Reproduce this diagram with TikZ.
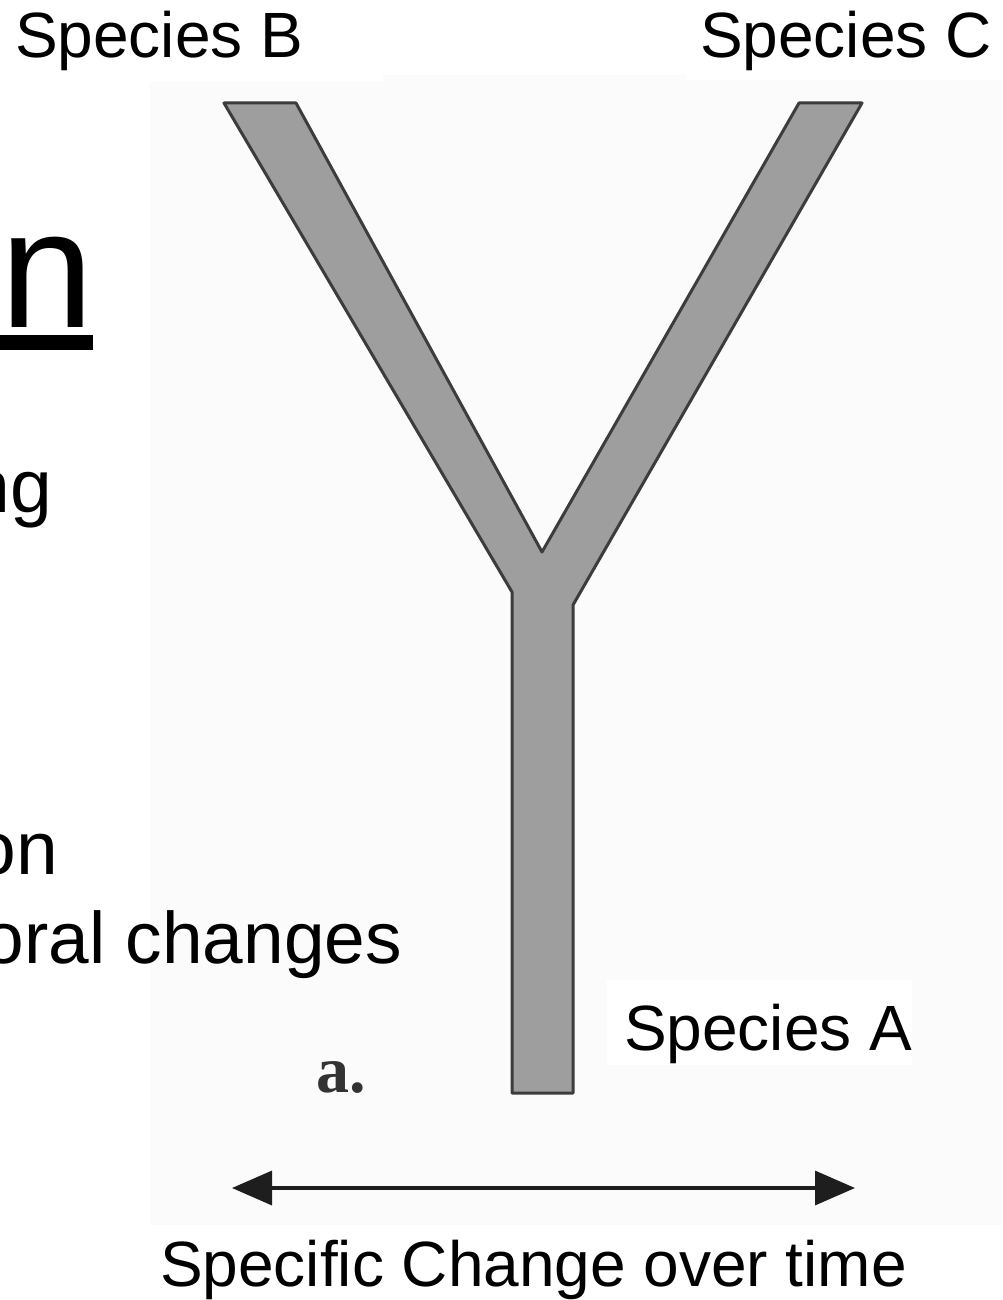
\documentclass[tikz,border=0pt]{standalone}
\usepackage{fontspec}
\setmainfont{Liberation Sans}
\newfontfamily\serifbold{Liberation Serif}
\usetikzlibrary{arrows.meta}
\definecolor{scanbg}{RGB}{251,251,251}
\definecolor{branchfill}{RGB}{158,158,158}
\definecolor{branchline}{RGB}{60,60,60}
\definecolor{arrowcol}{RGB}{30,30,30}
\tikzset{
  lbl/.style={inner sep=0pt, outer sep=0pt, text=black},
  specieslbl/.style={lbl, font=\fontsize{64}{72}\selectfont, anchor=base west},
  slidetxt/.style={lbl, font=\fontsize{75}{85}\selectfont, anchor=base east},
  labelbox/.style={fill=white, draw=none},
  branch/.style={fill=branchfill, draw=branchline, line width=3pt, line join=round},
  timearrow/.style={draw=arrowcol, line width=3.5pt, {Triangle[length=40pt,width=34pt]}-{Triangle[length=40pt,width=34pt]}}
}
\begin{document}
\begin{tikzpicture}[x=1pt,y=-1pt]
\useasboundingbox (0,0) rectangle (1002,1300);
\fill[white] (0,0) rectangle (1002,1300);
% scanned figure background
\fill[scanbg] (150,75) rectangle (1002,1225);
% label boxes
\fill[labelbox] (0,0) rectangle (383,82);
\fill[labelbox] (687,0) rectangle (1002,80);
\fill[labelbox] (607,980) rectangle (912,1065);
\fill[labelbox] (140,1225) rectangle (940,1300);

% slide text fragments
\node[lbl, font=\fontsize{168}{180}\selectfont, anchor=base west] (titlen) at (0,327) {n};
\fill[black] (0,335) rectangle (93,350);
\node[slidetxt] (lineng) at (52,512) {ng};
\node[slidetxt] (lineon) at (58,874) {on};
\node[slidetxt, font=\fontsize{73}{85}\selectfont] (linechanges) at (402,963) {oral changes};

% the Y-shaped tree
\coordinate (A) at (224,103);
\coordinate (B) at (296,103);
\coordinate (C) at (542,552);
\coordinate (D) at (799,103);
\coordinate (E) at (862,103);
\coordinate (F) at (573,605);
\coordinate (G) at (573,1093);
\coordinate (H) at (512,1093);
\coordinate (I) at (512,592);
\draw[branch] (A) -- (B) -- (C) -- (D) -- (E) -- (F) -- (G) -- (H) -- (I) -- cycle;

% labels
\node[specieslbl] (spB) at (15,58) {Species B};
\node[specieslbl] (spC) at (700,58) {Species C};
\node[specieslbl] (spA) at (624,1050) {Species A};
\node[lbl, font=\serifbold\bfseries\fontsize{66}{72}\selectfont, text=black!80, anchor=base west] (fig) at (316,1092) {a.};

% time arrow
\coordinate (arrL) at (232,1188);
\coordinate (arrR) at (855,1188);
\draw[timearrow] (arrL) -- (arrR);
\node[specieslbl] (change) at (160,1286) {Specific Change over time};
\end{tikzpicture}
\end{document}
